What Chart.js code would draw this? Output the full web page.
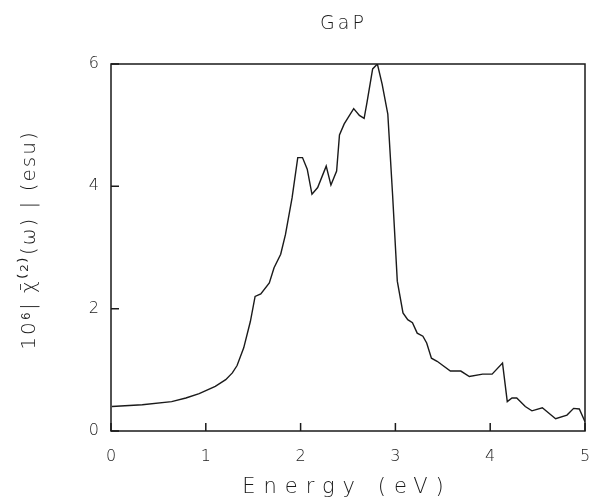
<!DOCTYPE html>
<html>
<head>
<meta charset="utf-8">
<script src="https://cdn.jsdelivr.net/npm/chart.js@4/dist/chart.umd.min.js"></script>
<style>
html,body{margin:0;padding:0;background:#fff;}
#wrap{width:589px;height:502px;position:relative;}
</style>
</head>
<body>
<div id="wrap"><canvas id="c" width="589" height="502"></canvas></div>
<script>
const energy = [0.01,0.33,0.64,0.79,0.93,1.10,1.21,1.28,1.33,1.40,1.47,1.52,1.58,1.67,1.72,1.79,1.84,1.91,1.97,2.02,2.07,2.12,2.18,2.27,2.32,2.38,2.41,2.46,2.56,2.62,2.67,2.70,2.76,2.81,2.86,2.92,2.97,3.02,3.08,3.13,3.18,3.23,3.29,3.33,3.38,3.44,3.58,3.69,3.78,3.92,4.02,4.13,4.18,4.23,4.28,4.37,4.44,4.55,4.69,4.81,4.88,4.94,5.00];
const chi = [0.40,0.43,0.48,0.54,0.61,0.73,0.84,0.95,1.07,1.36,1.79,2.20,2.24,2.42,2.67,2.89,3.21,3.81,4.47,4.47,4.28,3.87,3.98,4.33,4.02,4.25,4.84,5.02,5.27,5.16,5.11,5.37,5.92,6.00,5.67,5.18,3.87,2.45,1.93,1.82,1.77,1.60,1.55,1.44,1.19,1.14,0.98,0.98,0.89,0.93,0.93,1.11,0.48,0.54,0.54,0.40,0.33,0.38,0.20,0.26,0.37,0.36,0.15];
const xTicks = [0,1,2,3,4,5];
const yTicks = [0,2,4,6];
const titleText = "GaP";
const xTitle = "Energy (eV)";
const yTitle = "10\u2076| \u03C7\u0304\u207D\u00B2\u207E(\u03C9) | (esu)";

const FONT = '"DejaVu Sans", sans-serif';
const INK = '#1a1a1a';

function spacedText(ctx, text, x, y, spacing) {
  ctx.letterSpacing = spacing + 'px';
  ctx.fillText(text, x + spacing / 2, y);
}

const framePlugin = {
  id: 'frame',
  afterDraw(chart) {
    const ctx = chart.ctx;
    const a = chart.chartArea;
    const xs = chart.scales.x, ys = chart.scales.y;
    ctx.save();
    ctx.strokeStyle = INK;
    ctx.lineWidth = 1.5;
    ctx.strokeRect(a.left, a.top, a.right - a.left, a.bottom - a.top);
    ctx.beginPath();
    xTicks.forEach(v => {
      const px = xs.getPixelForValue(v);
      ctx.moveTo(px, a.bottom); ctx.lineTo(px, a.bottom - 8);
    });
    yTicks.forEach(v => {
      const py = ys.getPixelForValue(v);
      ctx.moveTo(a.left, py); ctx.lineTo(a.left + 8, py);
    });
    ctx.stroke();
    ctx.fillStyle = INK;
    ctx.textAlign = 'center';
    ctx.textBaseline = 'middle';
    ctx.font = '300 19px ' + FONT;
    spacedText(ctx, titleText, 342, 24, 3);
    ctx.font = '300 21px ' + FONT;
    spacedText(ctx, xTitle, 343, 488, 8);
    ctx.translate(30, 241);
    ctx.rotate(-Math.PI / 2);
    ctx.font = '300 20px ' + FONT;
    spacedText(ctx, yTitle, 0, 0, 2);
    ctx.restore();
  }
};

new Chart(document.getElementById('c'), {
  type: 'line',
  data: {
    datasets: [{
      data: energy.map((e, i) => ({x: e, y: chi[i]})),
      borderColor: INK,
      borderWidth: 1.4,
      pointRadius: 0,
      tension: 0,
      fill: false
    }]
  },
  options: {
    responsive: false,
    animation: false,
    events: [],
    layout: { padding: { left: 0, right: 4, top: 64, bottom: 0 } },
    plugins: { legend: { display: false }, tooltip: { enabled: false } },
    scales: {
      x: {
        type: 'linear', min: 0, max: 5,
        afterBuildTicks(s) { s.ticks = xTicks.map(v => ({value: v})); },
        grid: { display: false, drawTicks: false },
        border: { display: false },
        ticks: { color: INK, font: { family: FONT, size: 16, weight: 300 }, padding: 16 },
        afterFit(s) { s.height = 71; s.paddingLeft = 0; s.paddingRight = 0; }
      },
      y: {
        type: 'linear', min: 0, max: 6,
        afterBuildTicks(s) { s.ticks = yTicks.map(v => ({value: v})); },
        grid: { display: false, drawTicks: false },
        border: { display: false },
        ticks: { color: INK, font: { family: FONT, size: 16, weight: 300 }, padding: 12 },
        afterFit(s) { s.width = 111; s.paddingTop = 0; s.paddingBottom = 0; }
      }
    }
  },
  plugins: [framePlugin]
});
</script>
</body>
</html>
